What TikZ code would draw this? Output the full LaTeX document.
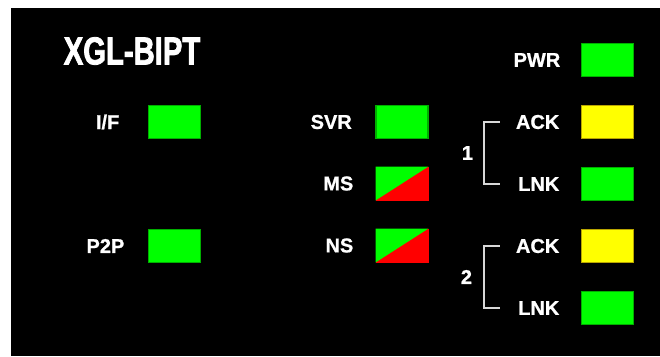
\documentclass[tikz,border=0pt]{standalone}
\usepackage{fontspec}
\setmainfont{Liberation Sans}[BoldFeatures={FakeBold=0.9}]
\newfontfamily\fontetitulo{Liberation Sans}[BoldFeatures={FakeBold=2.2}]
\usepackage{graphicx}
\usepackage{xcolor}
\definecolor{verdeL}{RGB}{0,255,0}
\definecolor{verdeE}{RGB}{0,175,0}
\definecolor{amarelo}{RGB}{255,255,0}
\definecolor{amareloE}{RGB}{185,165,0}
\definecolor{vermelho}{RGB}{255,0,0}
\definecolor{cinzaC}{RGB}{215,215,215}
\usetikzlibrary{positioning,calc}

\begin{document}
\begin{tikzpicture}[x=1pt,y=-1pt,
            led/.style={draw=verdeE,fill=verdeL,line width=1.2pt,inner sep=0pt,
              outer sep=0pt,minimum width=52pt,minimum height=33pt},
            ledam/.style={led,draw=amareloE,fill=amarelo},
            ledbi/.style={led,draw=none,fill=vermelho,
              minimum width=53pt,minimum height=34pt,
              path picture={\fill[verdeL] (path picture bounding box.south west)
                -- (path picture bounding box.north west)
                -- (path picture bounding box.north east) -- cycle;}},
            rotulo/.style={inner sep=0pt,text=white,
              font=\fontsize{20}{24}\selectfont\bfseries},
            titulo/.style={inner sep=0pt,text=white,
              font=\fontetitulo\fontsize{39}{44}\selectfont\bfseries},
            chave/.style={cinzaC,line width=1.6pt},
            numero/.style={rotulo}
            ]
            \useasboundingbox (0,0) rectangle (660,356);
            \fill[black] (11,8) rectangle (660,356);

            \node[titulo] (tit) at (132,51) {\scalebox{0.75}[1]{XGL-BIPT}};

            % coluna esquerda
            \node[led] (iface) at (174.5,122) {};
            \node[led,below=91pt of iface] (ptp) {};
            \node[rotulo,left=29pt of iface] (liface) {I/F};
            \node[rotulo,left=24pt of ptp] (lptp) {P2P};

            % coluna do meio
            \node[led] (svr) at (402,122) {};
            \node[ledbi,below=28pt of svr] (ms) {};
            \node[ledbi,below=28pt of ms] (ns) {};
            \node[rotulo,left=24pt of svr] (lsvr) {SVR};
            \node[rotulo,left=22pt of ms] (lms) {MS};
            \node[rotulo,left=22pt of ns] (lns) {NS};

            % coluna direita
            \node[led] (pwr) at (607.5,60) {};
            \node[ledam,below=29pt of pwr] (ack1) {};
            \node[led,below=29pt of ack1] (lnk1) {};
            \node[ledam,below=29pt of lnk1] (ack2) {};
            \node[led,below=29pt of ack2] (lnk2) {};
            \node[rotulo,left=21pt of pwr] (lpwr) {PWR};
            \node[rotulo,left=22pt of ack1] (lack1) {ACK};
            \node[rotulo,left=22pt of lnk1] (llnk1) {LNK};
            \node[rotulo,left=22pt of ack2] (lack2) {ACK};
            \node[rotulo,left=22pt of lnk2] (llnk2) {LNK};

            \draw[chave] ([xshift=-16pt]lack1.west) -- ++(-16,0)
            |- node[pos=0.25,numero,left=10pt] {1} ([xshift=-18pt]llnk1.west);
            \draw[chave] ([xshift=-16pt]lack2.west) -- ++(-16,0)
            |- node[pos=0.25,numero,left=11pt] {2} ([xshift=-18pt]llnk2.west);
          \end{tikzpicture}
\end{document}
